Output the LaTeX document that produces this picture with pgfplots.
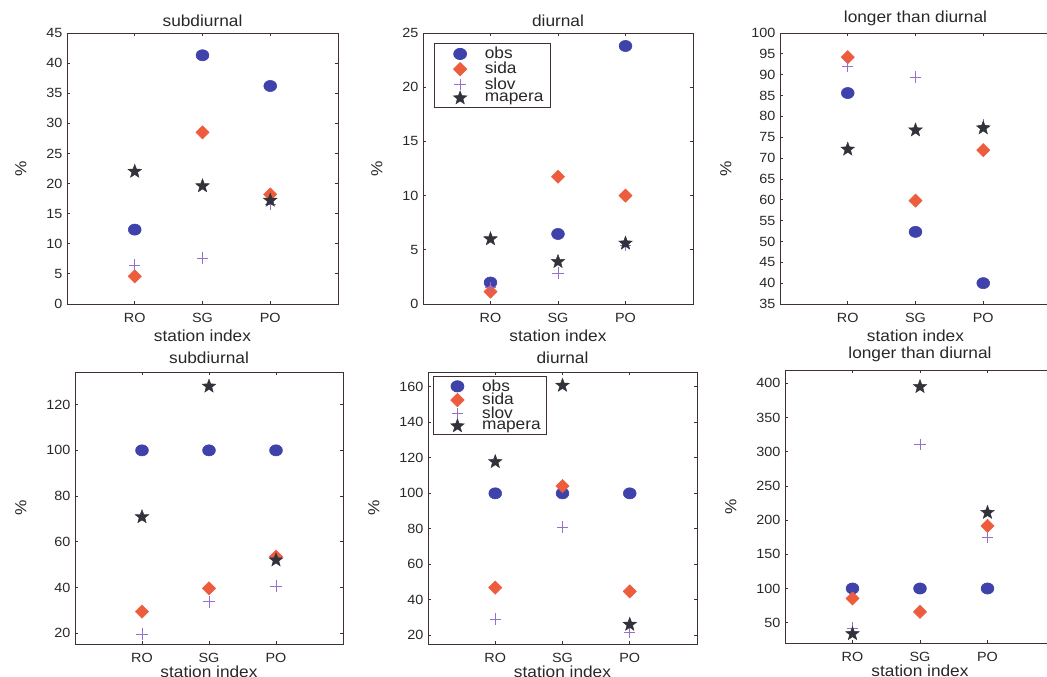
\documentclass[border=0pt]{standalone}
\usepackage{fontspec}
\setmainfont{Liberation Sans}[FakeStretch=1.08]
\usepackage{pgfplots}
\pgfplotsset{compat=1.18}
\definecolor{obscol}{RGB}{62,66,170}
\definecolor{sidacol}{RGB}{238,92,62}
\definecolor{slovcol}{RGB}{150,112,205}
\definecolor{mapcol}{RGB}{50,50,58}
\definecolor{axcol}{RGB}{62,48,52}
\definecolor{txtcol}{RGB}{40,40,40}
\pgfdeclareplotmark{fstar}{%
  \pgfpathmoveto{\pgfpointpolar{90}{\pgfplotmarksize}}%
  \pgfpathlineto{\pgfpointpolar{126}{0.42\pgfplotmarksize}}%
  \pgfpathlineto{\pgfpointpolar{162}{\pgfplotmarksize}}%
  \pgfpathlineto{\pgfpointpolar{198}{0.42\pgfplotmarksize}}%
  \pgfpathlineto{\pgfpointpolar{234}{\pgfplotmarksize}}%
  \pgfpathlineto{\pgfpointpolar{270}{0.42\pgfplotmarksize}}%
  \pgfpathlineto{\pgfpointpolar{306}{\pgfplotmarksize}}%
  \pgfpathlineto{\pgfpointpolar{342}{0.42\pgfplotmarksize}}%
  \pgfpathlineto{\pgfpointpolar{18}{\pgfplotmarksize}}%
  \pgfpathlineto{\pgfpointpolar{54}{0.42\pgfplotmarksize}}%
  \pgfpathclose
  \pgfusepathqfillstroke
}
\pgfplotsset{
  panel/.style={
    scale only axis,
    xmin=0, xmax=4, xtick={1,2,3}, xticklabels={RO,SG,PO},
    tick align=inside, major tick length=2.5pt, tick pos=both,
    axis line style={draw=axcol, line width=0.7pt},
    every tick/.style={draw=axcol, line width=0.6pt},
    tick label style={font=\fontsize{10}{12}\selectfont, text=txtcol},
    xticklabel style={yshift=-3pt},
    label style={font=\fontsize{12}{14}\selectfont, text=txtcol},
    title style={font=\fontsize{12}{14}\selectfont, text=txtcol, yshift=-4.5pt},
    xlabel={station index}, ylabel={\%},
    xlabel shift=-1pt, ylabel shift=8pt,
    /pgf/number format/assume math mode=true,
    clip=false,
  },
  bottomrow/.style={xlabel shift=-4pt, title style={yshift=1pt}},
  lim/.style={legend image code/.code={\path (0cm,0cm) (1.12cm,0cm); \draw[mark repeat=2,mark phase=2,##1,only marks] plot coordinates {(0cm,0cm) (0.55cm,0cm) (1.1cm,0cm)};}},
  obs/.style={only marks, mark=*, mark size=4.2pt, color=obscol, mark options={xscale=1.15}, lim},
  sida/.style={only marks, mark=square*, mark size=3.5pt, color=sidacol, mark options={rotate=45}, lim},
  slov/.style={only marks, mark=+, mark size=4.3pt, color=slovcol, mark options={line width=0.5pt}, lim},
  mapera/.style={only marks, mark=fstar, mark size=5.4pt, color=mapcol, mark options={line width=0.3pt}, lim},
  myleg/.style={
    legend cell align=left,
    legend style={draw=axcol, line width=0.6pt, font=\fontsize{12}{12}\selectfont, text=txtcol, anchor=north west, inner sep=2pt},
  },
}
\begin{document}
\begin{tikzpicture}
% ---------- top row ----------
\begin{axis}[panel, at={(50.25pt,279.75pt)}, anchor=south west, width=203.25pt, height=203.25pt,
  title={subdiurnal}, ymin=0, ymax=45, ytick={0,5,...,45}]
\addplot[obs] coordinates {(1,12.35) (2,41.3) (3,36.2)};
\addplot[sida] coordinates {(1,4.6) (2,28.5) (3,18.2)};
\addplot[slov] coordinates {(1,6.45) (2,7.6) (3,16.5)};
\addplot[mapera] coordinates {(1,22.0) (2,19.6) (3,17.2)};
\end{axis}
\begin{axis}[panel, myleg, at={(317.25pt,279.75pt)}, anchor=south west, width=202.5pt, height=203.25pt,
  title={diurnal}, ymin=0, ymax=25, ytick={0,5,...,25},
  legend style={at={(0.04,0.963)}, row sep=-2.8pt, inner ysep=0.8pt, inner xsep=3.5pt}]
\addplot[obs] coordinates {(1,1.98) (2,6.46) (3,23.8)};
\addplot[sida] coordinates {(1,1.14) (2,11.74) (3,10.0)};
\addplot[slov] coordinates {(1,1.5) (2,2.84) (3,5.4)};
\addplot[mapera] coordinates {(1,6.0) (2,3.9) (3,5.6)};
\legend{obs,sida,slov,mapera}
\end{axis}
\begin{axis}[panel, at={(585pt,279.75pt)}, anchor=south west, width=203.25pt, height=203.25pt,
  title={longer than diurnal}, ymin=35, ymax=100, ytick={35,40,...,100}]
\addplot[obs] coordinates {(1,85.6) (2,52.3) (3,40.0)};
\addplot[sida] coordinates {(1,94.2) (2,59.8) (3,71.9)};
\addplot[slov] coordinates {(1,92.0) (2,89.4) (3,77.9)};
\addplot[mapera] coordinates {(1,72.1) (2,76.7) (3,77.2)};
\end{axis}
% ---------- bottom row ----------
\begin{axis}[panel, bottomrow, at={(56.25pt,24.75pt)}, anchor=south west, width=201pt, height=204pt,
  title={subdiurnal}, ymin=15.34, ymax=134.26, ytick={20,40,...,120}]
\addplot[obs] coordinates {(1,100) (2,100) (3,100)};
\addplot[sida] coordinates {(1,29.5) (2,39.7) (3,53.5)};
\addplot[slov] coordinates {(1,19.7) (2,33.8) (3,40.7)};
\addplot[mapera] coordinates {(1,70.9) (2,128.0) (3,52.0)};
\end{axis}
\begin{axis}[panel, bottomrow, myleg, at={(321pt,24.75pt)}, anchor=south west, width=201.75pt, height=204pt,
  title={diurnal}, ymin=15.1, ymax=168.4, ytick={20,40,...,160},
  legend style={at={(0.019,0.985)}, row sep=-3.9pt, inner ysep=0.3pt, inner xsep=2pt}]
\addplot[obs] coordinates {(1,100) (2,100) (3,100)};
\addplot[sida] coordinates {(1,46.9) (2,104.1) (3,44.7)};
\addplot[slov] coordinates {(1,29.1) (2,81.1) (3,21.6)};
\addplot[mapera] coordinates {(1,117.8) (2,160.8) (3,26.1)};
\legend{obs,sida,slov,mapera}
\end{axis}
\begin{axis}[panel, bottomrow, at={(588.75pt,25.5pt)}, anchor=south west, width=202.5pt, height=204.75pt,
  title={longer than diurnal}, ymin=20.3, ymax=419.5, ytick={50,100,...,400}]
\addplot[obs] coordinates {(1,100) (2,100) (3,100)};
\addplot[sida] coordinates {(1,85.4) (2,65.9) (3,191.5)};
\addplot[slov] coordinates {(1,42.1) (2,310.8) (3,174.5)};
\addplot[mapera] coordinates {(1,33.8) (2,395.0) (3,211.0)};
\end{axis}
\pgfresetboundingbox
\useasboundingbox (0pt,0pt) rectangle (785.25pt,507.75pt);
\end{tikzpicture}
\end{document}
